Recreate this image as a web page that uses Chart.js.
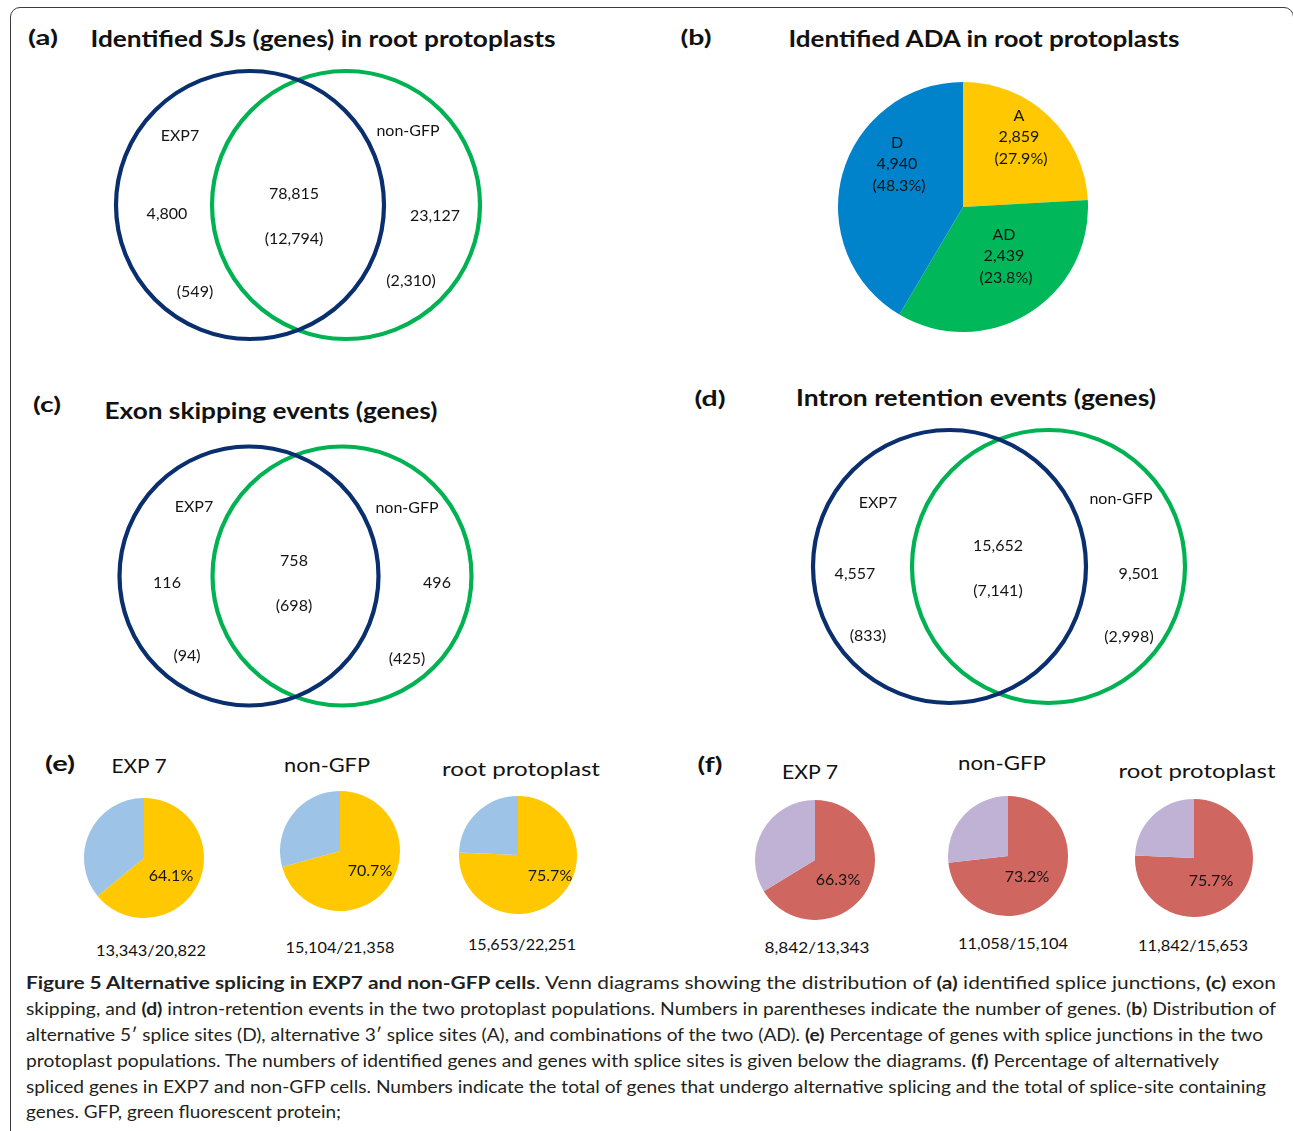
<!DOCTYPE html>
<html>
<head>
<meta charset="utf-8">
<title>Figure 5 - Alternative splicing in EXP7 and non-GFP cells</title>
<script src="https://cdn.jsdelivr.net/npm/chart.js@4.4.1/dist/chart.umd.min.js"></script>
<style>
  html, body { margin: 0; padding: 0; background: #fff; }
  #page { position: relative; width: 1293px; height: 1131px; overflow: hidden; font-family: Lato, 'Open Sans', sans-serif; color: #111; }
  #frame { position: absolute; left: 10px; top: 7px; width: 1284px; height: 1200px; box-sizing: border-box;
           border: 1.5px solid #3a3a3a; border-radius: 10px 10px 0 0; }
  canvas { position: absolute; }
  .lbl { position: absolute; white-space: nowrap; line-height: 1; transform-origin: 50% 50%; }
  .cap { position: absolute; left: 26px; white-space: nowrap; line-height: 1; font-size: 16.5px; color: #231f20; transform-origin: 0 50%; }
  .cap b { font-weight: 700; }
</style>
</head>
<body>
<div id="page"><div id="frame"></div></div>

<script>
// --- DATOS ---
const vennNames = ['EXP7', 'non-GFP'];
// orden de regiones: [solo EXP7, compartido, solo non-GFP]
const sjCounts = [4800, 78815, 23127];
const sjGenes = [549, 12794, 2310];
const esCounts = [116, 758, 496];
const esGenes = [94, 698, 425];
const irCounts = [4557, 15652, 9501];
const irGenes = [833, 7141, 2998];

const adaNames = ['A', 'AD', 'D'];
const adaCounts = [2859, 2439, 4940];
const adaPercent = [27.9, 23.8, 48.3];
const adaSlices = [24.1, 34.4, 41.5]; // tamaño de las porciones tal como se ven en la figura

const groupNames = ['EXP 7', 'non-GFP', 'root protoplast'];
const sjGenePercent = [64.1, 70.7, 75.7];
const sjGeneCounts = [13343, 15104, 15653];
const sjGeneTotals = [20822, 21358, 22251];
const asGenePercent = [66.3, 73.2, 75.7];
const asGeneCounts = [8842, 11058, 11842];
const asGeneTotals = [13343, 15104, 15653];

// --- ESTILO / POSICIONES ---
const vennColors = ['#0a2f6e', '#00b251'];
const adaColors = ['#ffc800', '#00b85a', '#0083cb'];
const sjPieColors = ['#ffc800', '#9dc3e6'];
const asPieColors = ['#cf665f', '#c0b2d4'];
const INK = '#141414';

const page = document.getElementById('page');
const fmt = n => n.toLocaleString('en-US');

function makeCanvas(box) {
    const c = document.createElement('canvas');
    c.width = box[2];
    c.height = box[3];
    c.style.left = box[0] + 'px';
    c.style.top = box[1] + 'px';
    page.appendChild(c);
    return c;
}

function addText(text, x, y, size, width, bold) {
    const el = document.createElement('div');
    el.className = 'lbl';
    el.textContent = text;
    el.style.fontSize = size + 'px';
    if (bold) el.style.fontWeight = 700;
    el.style.left = x + 'px';
    el.style.top = y + 'px';
    page.appendChild(el);
    const k = width ? width / el.getBoundingClientRect().width : 1;
    el.style.transform = `translate(-50%, -50%) scaleX(${k})`;
}

// plugin para escribir los textos dentro de cada gráfico
const textPlugin = {
    id: 'texts',
    afterDatasetsDraw(chart, args, opts) {
        const ctx = chart.ctx;
        const sx = chart.scales.x, sy = chart.scales.y;
        const arc = chart.getDatasetMeta(0).data[0];
        ctx.save();
        ctx.fillStyle = INK;
        ctx.textAlign = 'center';
        ctx.textBaseline = 'alphabetic';
        (opts.items || []).forEach(it => {
            const size = it.size || 16;
            ctx.font = `${size}px Lato`;
            let px, py;
            if (sx && sy) { px = sx.getPixelForValue(it.x); py = sy.getPixelForValue(it.y); }
            else { px = arc.x + it.x; py = arc.y + it.y; }
            ctx.fillText(it.text, px, py + 0.36 * size);
        });
        ctx.restore();
    }
};

// --- DIAGRAMAS DE VENN ---
// las escalas van en píxeles de la página (1 unidad = 1 px), así el radio del círculo coincide
function dibujarVenn(box, centers, radius, counts, genes, pos) {
    const canvas = makeCanvas(box);
    const items = [];
    vennNames.forEach((n, i) => items.push({ text: n, x: pos.names[i][0], y: pos.names[i][1] }));
    counts.forEach((v, i) => items.push({ text: fmt(v), x: pos.counts[i][0], y: pos.counts[i][1] }));
    genes.forEach((v, i) => items.push({ text: '(' + fmt(v) + ')', x: pos.genes[i][0], y: pos.genes[i][1] }));

    new Chart(canvas, {
        type: 'bubble',
        data: {
            datasets: vennNames.map((name, i) => ({
                label: name,
                data: [{ x: centers[i][0], y: centers[i][1], r: radius }],
                borderColor: vennColors[i],
                backgroundColor: 'rgba(0,0,0,0)',
                borderWidth: 4.2,
                hoverBorderWidth: 4.2,
                clip: false
            }))
        },
        options: {
            responsive: false,
            animation: false,
            devicePixelRatio: 1,
            events: [],
            layout: { padding: 0, autoPadding: false },
            scales: {
                x: { type: 'linear', display: false, min: box[0], max: box[0] + box[2] },
                y: { type: 'linear', display: false, min: box[1], max: box[1] + box[3], reverse: true }
            },
            plugins: { legend: { display: false }, tooltip: { enabled: false }, texts: { items } }
        },
        plugins: [textPlugin]
    });
}

dibujarVenn([100, 60, 400, 300], [[250, 205], [346, 205]], 134, sjCounts, sjGenes, {
    names: [[180, 135], [408, 130]],
    counts: [[167, 213], [294, 193], [435, 215]],
    genes: [[195, 291], [294, 238], [411, 280]]
});
dibujarVenn([100, 430, 400, 290], [[249, 576], [342, 576]], 129.5, esCounts, esGenes, {
    names: [[194, 506], [407, 507]],
    counts: [[167, 582], [294, 560], [437, 582]],
    genes: [[187, 655], [294, 605], [407, 658]]
});
dibujarVenn([790, 420, 420, 300], [[949.5, 566.5], [1048.5, 566.5]], 136.5, irCounts, irGenes, {
    names: [[878, 502], [1121, 498]],
    counts: [[855, 573], [998, 545], [1139, 573]],
    genes: [[868, 635], [998, 590], [1129, 636]]
});

// --- GRÁFICOS DE TORTA ---
function dibujarTorta(box, values, colors, items) {
    const canvas = makeCanvas(box);
    new Chart(canvas, {
        type: 'pie',
        data: {
            labels: values.map((v, i) => 'slice ' + i),
            datasets: [{ data: values, backgroundColor: colors, borderWidth: 0, hoverOffset: 0, offset: 0 }]
        },
        options: {
            responsive: false,
            animation: false,
            devicePixelRatio: 1,
            events: [],
            layout: { padding: 0 },
            plugins: { legend: { display: false }, tooltip: { enabled: false }, texts: { items } }
        },
        plugins: [textPlugin]
    });
}

// (b) ADA
const adaLabelPos = [[56, -92], [41, 27], [-66, -65]];
const adaItems = [];
adaNames.forEach((n, i) => {
    const [dx, dy] = adaLabelPos[i];
    adaItems.push({ text: n, x: dx, y: dy });
    adaItems.push({ text: fmt(adaCounts[i]), x: dx, y: dy + 21.5 });
    adaItems.push({ text: '(' + adaPercent[i].toFixed(1) + '%)', x: dx + 2, y: dy + 43.5 });
});
dibujarTorta([838, 82, 250, 250], adaSlices, adaColors, adaItems);

// (e) y (f)
const sjPieBoxes = [[84, 798, 120, 120], [280, 791, 120, 120], [459, 796, 118, 118]];
const sjPctPos = [[27, 17], [30, 19], [32, 20]];
const asPieBoxes = [[755, 800, 120, 120], [948, 796, 120, 120], [1135, 799, 118, 118]];
const asPctPos = [[23, 19], [19, 20], [17, 22]];

groupNames.forEach((g, i) => {
    dibujarTorta(sjPieBoxes[i], [sjGenePercent[i], +(100 - sjGenePercent[i]).toFixed(1)], sjPieColors,
        [{ text: sjGenePercent[i].toFixed(1) + '%', x: sjPctPos[i][0], y: sjPctPos[i][1] }]);
    dibujarTorta(asPieBoxes[i], [asGenePercent[i], +(100 - asGenePercent[i]).toFixed(1)], asPieColors,
        [{ text: asGenePercent[i].toFixed(1) + '%', x: asPctPos[i][0], y: asPctPos[i][1] }]);
});

// --- TÍTULOS ---
addText('(a)', 43, 37, 20, 30, true);
addText('Identified SJs (genes) in root protoplasts', 323, 38.5, 23.5, 465, true);
addText('(b)', 696, 37, 20, 31, true);
addText('Identified ADA in root protoplasts', 984, 38.5, 23.5, 391, true);
addText('(c)', 47, 404, 20, 28, true);
addText('Exon skipping events (genes)', 270.5, 411, 23.5, 333, true);
addText('(d)', 710, 398, 20, 31, true);
addText('Intron retention events (genes)', 975.5, 397.5, 23.5, 360, true);
addText('(e)', 60, 763, 20, 30, true);
addText('(f)', 709.5, 764, 20, 25, true);

const sjTitlePos = [[138.5, 766, 55], [327, 765, 86], [521, 769, 158]];
const asTitlePos = [[810, 771.5, 56], [1002, 763, 88], [1197, 770.5, 157]];
const sjTotalPos = [[151, 949.5, 110], [339.5, 946.5, 109], [522, 944, 108]];
const asTotalPos = [[817, 947, 105], [1013, 943, 110], [1193, 944.5, 110]];
groupNames.forEach((g, i) => {
    addText(g, sjTitlePos[i][0], sjTitlePos[i][1], 19.5, sjTitlePos[i][2]);
    addText(g, asTitlePos[i][0], asTitlePos[i][1], 19.5, asTitlePos[i][2]);
    addText(fmt(sjGeneCounts[i]) + '/' + fmt(sjGeneTotals[i]), sjTotalPos[i][0], sjTotalPos[i][1], 16, sjTotalPos[i][2]);
    addText(fmt(asGeneCounts[i]) + '/' + fmt(asGeneTotals[i]), asTotalPos[i][0], asTotalPos[i][1], 16, asTotalPos[i][2]);
});

// --- LEYENDA DE LA FIGURA ---
const captionLines = [
    '<b>Figure 5 Alternative splicing in EXP7 and non-GFP cells</b>. Venn diagrams showing the distribution of <b>(a)</b> identified splice junctions, <b>(c)</b> exon',
    'skipping, and <b>(d)</b> intron-retention events in the two protoplast populations. Numbers in parentheses indicate the number of genes. (<b>b</b>) Distribution of',
    'alternative 5\u2032 splice sites (D), alternative 3\u2032 splice sites (A), and combinations of the two (AD). <b>(e)</b> Percentage of genes with splice junctions in the two',
    'protoplast populations. The numbers of identified genes and genes with splice sites is given below the diagrams. <b>(f)</b> Percentage of alternatively',
    'spliced genes in EXP7 and non-GFP cells. Numbers indicate the total of genes that undergo alternative splicing and the total of splice-site containing',
    'genes. GFP, green fluorescent protein;'
];
const captionY = [983, 1009, 1035, 1061, 1087, 1112];
const captionW = [1250, 1250, 1237, 1193, 1240, 315];
captionLines.forEach((html, i) => {
    const el = document.createElement('div');
    el.className = 'cap';
    el.innerHTML = html;
    el.style.top = captionY[i] + 'px';
    page.appendChild(el);
    const k = captionW[i] / el.getBoundingClientRect().width;
    el.style.transform = `translateY(-50%) scaleX(${k})`;
});
</script>
</body>
</html>
